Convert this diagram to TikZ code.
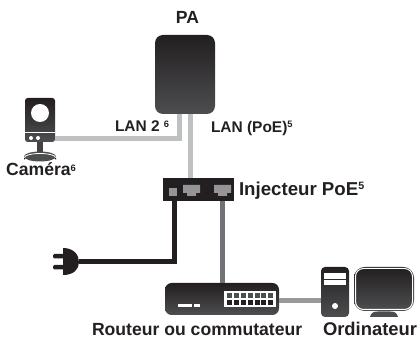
\documentclass[tikz,border=0pt]{standalone}
\usepackage{fontspec}
\setmainfont{Liberation Sans}
\usetikzlibrary{calc}
\definecolor{inkd}{HTML}{231F20}
\definecolor{inkl}{HTML}{4D4E50}
\definecolor{lanlight}{HTML}{BFC0C2}
\definecolor{lanmid}{HTML}{717275}
\definecolor{lanpc}{HTML}{98999B}
\definecolor{portg}{HTML}{939598}
\definecolor{txt}{HTML}{231F20}
\tikzset{
  device/.style={rectangle,inner sep=0,outer sep=0,top color=inkd,bottom color=inkl,draw=none},
  lbl/.style={inner sep=0,outer sep=0,text=txt,font=\fontsize{13.2}{15}\selectfont\bfseries,anchor=base west},
  lblsmall/.style={lbl,font=\fontsize{11.6}{14}\selectfont\bfseries},
  lblbig/.style={lbl,font=\fontsize{14}{16}\selectfont\bfseries},
  lblpc/.style={lbl,font=\fontsize{13.8}{16}\selectfont\bfseries},
  cable/.style={line width=3.75pt,line cap=butt,line join=miter},
  whitepart/.style={fill=white,draw=none}
}
\newcommand{\supa}[1]{\raisebox{3.6pt}{\fontsize{7}{8}\selectfont #1}}
\newcommand{\supb}[1]{\raisebox{4.4pt}{\fontsize{8}{8}\selectfont #1}}
\begin{document}
\begin{tikzpicture}[x=0.75pt,y=-0.75pt]
\useasboundingbox (0,0) rectangle (418,338);
% devices
\node[device,rounded corners=6pt,minimum width=45pt,minimum height=59.25pt] (pa) at (185,74.5) {};
\node[rectangle,inner sep=0,outer sep=0,fill=inkd,minimum width=53.25pt,minimum height=17.25pt] (inj) at (198.5,189.5) {};
\node[device,rounded corners=5pt,minimum width=85.5pt,minimum height=24pt] (router) at (222,299) {};
\node[device,rounded corners=3pt,minimum width=21pt,minimum height=37.5pt] (tower) at (335,292) {};
\node[device,rounded corners=2pt,minimum width=22.5pt,minimum height=33pt] (cam) at (40,120) {};
\node[device,rounded corners=8pt,minimum width=45pt,minimum height=33pt] (mon) at (384,289) {};
% labels
\node[lbl,anchor=base] (tpa) at (187.5,23.5) {PA};
\node[lblsmall] (tlan2) at (115,132) {LAN 2 \supa{6}};
\node[lblsmall] (tlan) at (211,132.5) {LAN (PoE)\supa{5}};
\node[lblbig] (tinj) at (239,195.5) {Injecteur PoE\supb{5}};
\node[lbl,anchor=base] (tcam) at (41,176) {Caméra\supa{6}};
\node[lbl] (trouter) at (92,336) {Routeur ou commutateur};
\node[lblpc] (tpc) at (323,336) {Ordinateur};
% connector ends
\coordinate (plugend) at (79,262);
\coordinate (camport) at (55,139);
% connectors
\draw[cable,lanlight] (pa.south -| 179,0) |- (camport);
\draw[cable,lanlight] (pa.south -| 190,0) -- (inj.north -| 190,0);
\draw[cable,inkd] (inj.south -| 174,0) |- (plugend);
\draw[cable,lanmid] (inj.south -| 222,0) -- (router.north -| 222,0);
\draw[cable,lanpc] (router.east |- 0,301) -- (tower.west |- 0,301);
% injector ports
\fill[portg] (169,188) rectangle (177,196);
\foreach \x in {183,214}{
  \fill[portg] (\x,185) -- ++(17,0) -- ++(0,8) -- ++(-4,0) -- ++(0,3) -- ++(-9,0) -- ++(0,-3) -- ++(-4,0) -- cycle;
}
% router front
\fill[whitepart] (224,291) rectangle (276,307);
\foreach \c in {227,234,241,248,254.5,261,268}{
  \fill[inkl] (\c,293) rectangle ++(5,5);
  \fill[inkd] (\c,300) rectangle ++(5,5);
}
\fill[whitepart] (178,304) rectangle (192,307);
\fill[whitepart] (194,304) rectangle (200,307);
% computer
\fill[whitepart] (324,273) rectangle (346,279);
\fill[whitepart] (324,280.5) rectangle (346,285);
\fill[whitepart] (335,306) circle[radius=3];
\draw[white,line width=0.75pt,rounded corners=6pt] (355.5,268.5) rectangle (412.5,309.5);
\fill[inkl] (370,317) .. controls (371,313) and (373,311.5) .. (378,311.5) -- (390,311.5) .. controls (395,311.5) and (397,313) .. (398,317) -- cycle;
% camera
\draw[white,line width=0.6pt] (25,132) -- (55,132);
\fill[whitepart] (40,113) circle[radius=9];
\fill[whitepart] (31,138) circle[radius=2];
\fill[whitepart] (38,138) circle[radius=2];
\fill[inkd!85!white] (37,142) rectangle (43,153);
\fill[inkd] (24,158) -- (24,160) arc[start angle=180,end angle=360,x radius=16,y radius=5] -- (56,158) -- cycle;
\fill[inkl] (40,156.5) ellipse[x radius=16,y radius=5];
\draw[white,line width=0.6pt] (24.5,157.5) arc[start angle=180,end angle=360,x radius=15.5,y radius=4];
% plug
\fill[inkd] (63,248) .. controls (74,248) and (79,255) .. (79,262) .. controls (79,269) and (74,275) .. (63,275) -- cycle;
\fill[inkd,rounded corners=1pt] (53,254) rectangle (64,258.5);
\fill[inkd,rounded corners=1pt] (53,265) rectangle (64,269.5);
\end{tikzpicture}
\end{document}
